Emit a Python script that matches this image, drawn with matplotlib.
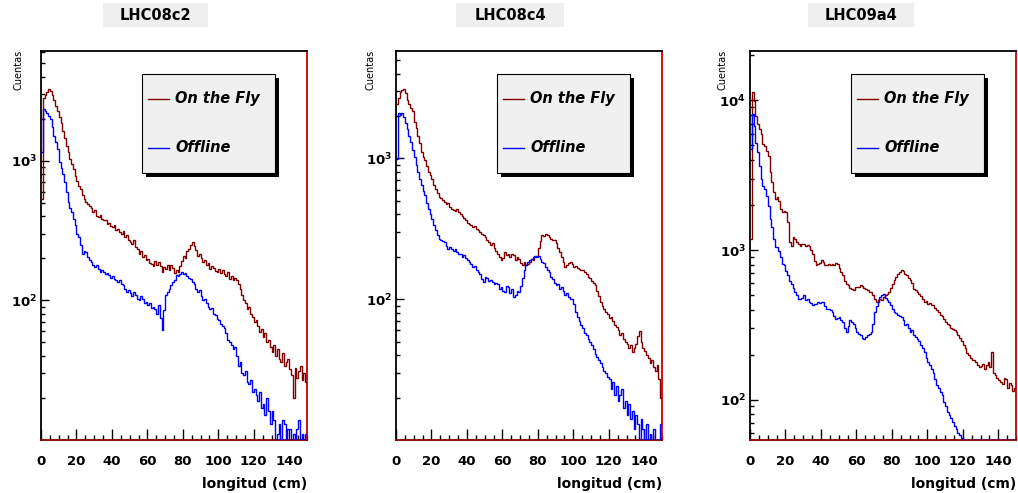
import matplotlib
matplotlib.use("Agg")
import matplotlib.pyplot as plt
import numpy as np
from matplotlib.patches import Rectangle
from matplotlib.lines import Line2D
from matplotlib.ticker import FixedLocator, FixedFormatter, LogLocator, NullFormatter

# ---- data (counts per 1 cm bin) ----
runs = ["LHC08c2", "LHC08c4", "LHC09a4"]
series_names = ["On the Fly", "Offline"]
longitud_cm = list(range(0, 151))  # bin edges

lhc08c2_onthefly = [
    530, 2800, 2950, 3100, 3250, 3150, 2950, 2700, 2450, 2250,
    2040, 1850, 1640, 1450, 1280, 1150, 1030, 950, 872, 780,
    720, 660, 628, 570, 532, 505, 490, 470, 455, 428,
    440, 405, 394, 410, 385, 378, 373, 352, 360, 340,
    334, 345, 320, 325, 308, 300, 312, 283, 295, 270,
    262, 254, 270, 240, 232, 216, 225, 205, 210, 193,
    198, 185, 183, 175, 192, 180, 188, 176, 160, 172,
    168, 178, 165, 178, 170, 158, 165, 160, 175, 190,
    209, 200, 225, 234, 250, 261, 245, 230, 209, 215,
    200, 188, 195, 180, 185, 168, 175, 170, 162, 160,
    168, 158, 165, 155, 150, 160, 143, 150, 140, 145,
    139, 130, 120, 109, 100, 95, 87, 90, 80, 76,
    70, 72, 65, 59, 62, 55, 58, 50, 52, 46,
    43, 48, 40, 45, 38, 36, 42, 34, 36, 38,
    32, 29, 20, 33, 28, 31, 34, 27, 30, 26,
]
lhc08c2_offline = [
    1150, 2340, 2250, 2210, 2100, 1980, 1750, 1510, 1350, 1210,
    973, 880, 803, 700, 600, 503, 460, 428, 380, 344,
    300, 283, 250, 216, 225, 221, 205, 195, 188, 180,
    172, 178, 168, 160, 165, 160, 155, 158, 151, 145,
    150, 142, 139, 135, 140, 131, 128, 120, 115, 118,
    112, 108, 115, 109, 103, 100, 108, 103, 95, 98,
    92, 96, 88, 90, 87, 80, 92, 75, 61, 85,
    109, 115, 120, 128, 135, 140, 151, 150, 155, 160,
    155, 158, 150, 145, 143, 135, 130, 120, 115, 118,
    108, 100, 103, 95, 90, 87, 88, 80, 78, 74,
    72, 68, 65, 63, 58, 52, 50, 48, 45, 46,
    40, 34, 36, 30, 29, 31, 26, 25, 27, 22,
    23, 21, 19, 22, 17, 18, 15, 20, 16, 13,
    16, 14, 6, 11, 13, 9, 14, 13, 6, 12,
    12, 7, 11, 8, 12, 14, 6, 11, 7, 11,
]

lhc08c4_onthefly = [
    2440, 2700, 2950, 3050, 3120, 2900, 2600, 2440, 2300, 2190,
    1810, 1640, 1455, 1280, 1110, 1030, 968, 880, 800, 760,
    717, 650, 609, 570, 532, 520, 504, 490, 477, 485,
    455, 440, 430, 425, 440, 416, 400, 390, 375, 363,
    350, 340, 335, 326, 330, 315, 309, 300, 290, 285,
    277, 265, 255, 241, 250, 230, 220, 211, 200, 189,
    195, 215, 205, 210, 200, 211, 205, 190, 198, 194,
    180, 174, 185, 174, 179, 185, 194, 190, 200, 204,
    230, 260, 285, 280, 292, 285, 275, 270, 265, 262,
    250, 230, 216, 200, 185, 169, 175, 180, 184, 178,
    169, 172, 168, 165, 160, 162, 156, 150, 145, 141,
    135, 130, 126, 115, 105, 96, 90, 85, 81, 78,
    73, 75, 70, 66, 63, 60, 56, 58, 52, 50,
    48, 45, 47, 42, 45, 48, 55, 59, 50, 45,
    43, 40, 38, 35, 37, 33, 31, 34, 27, 20,
]
lhc08c4_offline = [
    990, 2100, 2050, 2100, 1960, 1800, 1620, 1450, 1305, 1150,
    1020, 900, 800, 720, 644, 590, 547, 480, 440, 400,
    373, 335, 310, 285, 270, 262, 258, 255, 240, 229,
    235, 229, 220, 229, 215, 211, 208, 200, 205, 195,
    190, 184, 178, 169, 172, 160, 156, 150, 140, 133,
    145, 141, 135, 138, 133, 128, 130, 129, 118, 122,
    115, 112, 125, 122, 110, 118, 104, 108, 115, 112,
    125, 141, 160, 175, 184, 190, 194, 200, 204, 198,
    204, 194, 185, 180, 169, 160, 155, 144, 140, 130,
    126, 128, 119, 122, 115, 107, 110, 104, 101, 100,
    92, 81, 75, 70, 66, 62, 58, 56, 52, 50,
    47, 44, 41, 39, 37, 35, 33, 31, 30, 28,
    27, 23, 26, 21, 24, 19, 21, 23, 17, 19,
    15, 18, 14, 16, 12, 15, 13, 8, 14, 12,
    10, 13, 7, 11, 6, 12, 8, 6, 9, 13,
]

lhc09a4_onthefly = [
    1190, 11300, 9930, 7890, 6940, 6400, 5940, 5100, 4970, 4600,
    4260, 3300, 2830, 2450, 2190, 2250, 2140, 1880, 1790, 1820,
    1790, 1530, 1130, 1070, 1220, 1180, 1130, 1100, 1070, 1090,
    1090, 1060, 1080, 1070, 1000, 942, 850, 789, 808, 820,
    851, 830, 800, 789, 810, 795, 808, 800, 820, 808,
    760, 711, 680, 620, 594, 580, 560, 551, 540, 563,
    563, 570, 580, 576, 560, 545, 537, 520, 524, 500,
    470, 449, 460, 472, 465, 484, 500, 510, 524, 560,
    590, 626, 660, 690, 711, 730, 720, 693, 680, 650,
    626, 600, 551, 540, 520, 511, 490, 470, 449, 455,
    438, 440, 430, 427, 410, 400, 385, 370, 360, 348,
    330, 320, 314, 300, 295, 291, 285, 270, 260, 245,
    231, 220, 205, 198, 190, 185, 183, 178, 170, 165,
    168, 174, 160, 170, 178, 165, 208, 150, 146, 140,
    135, 131, 128, 140, 137, 120, 130, 125, 115, 119,
]
lhc09a4_offline = [
    4720, 8090, 6760, 5230, 4490, 3660, 2980, 2690, 2550, 2310,
    1980, 1610, 1420, 1190, 1040, 1040, 990, 900, 810, 789,
    720, 676, 620, 594, 560, 524, 500, 472, 472, 480,
    498, 463, 470, 449, 440, 427, 435, 438, 449, 440,
    449, 449, 420, 405, 405, 400, 385, 360, 348, 352,
    356, 340, 330, 300, 283, 310, 338, 330, 320, 300,
    283, 275, 270, 260, 256, 262, 270, 275, 283, 320,
    385, 420, 449, 484, 500, 511, 480, 463, 449, 430,
    405, 385, 380, 366, 360, 356, 340, 314, 322, 300,
    283, 290, 270, 262, 256, 245, 231, 220, 208, 190,
    178, 170, 161, 150, 137, 125, 119, 112, 107, 97,
    90, 83, 79, 75, 71, 67, 64, 60, 58, 55,
    50, 45, 40, 38, 35, 30, 28, 25, 22, 20,
    18, 16, 15, 13, 12, 11, 10, 9, 8, 7,
    7, 6, 6, 5, 5, 4, 4, 4, 3, 3,
]

onthefly = [lhc08c2_onthefly, lhc08c4_onthefly, lhc09a4_onthefly]
offline = [lhc08c2_offline, lhc08c4_offline, lhc09a4_offline]
y_ranges = [(10, 6100), (10, 5800), (53.7, 21400)]

# ---- layout (pixels in a 1018x493 canvas) ----
W, H = 1018, 493
RED = "#800000"
BLUE = "#0000ff"
panel_left = [41, 396, 750]
ylabel_offset = [23, 26, 27]
panel_width = 266
panel_top, panel_bottom = 51, 440
title_boxes = [(103, 208), (456, 564), (808, 914)]

plt.rcParams["font.family"] = ["DejaVu Sans"]
plt.rcParams["font.weight"] = "bold"


def fx(x):
    return x / W


def fy(y):
    return 1 - y / H


fig = plt.figure(figsize=(W / 100, H / 100), dpi=100)
fig.patch.set_facecolor("white")

for i, run in enumerate(runs):
    x0 = panel_left[i]
    ax = fig.add_axes([fx(x0), fy(panel_bottom), panel_width / W,
                       (panel_bottom - panel_top) / H])
    ymin, ymax = y_ranges[i]

    ax.stairs(np.maximum(onthefly[i], ymin), longitud_cm, baseline=None,
              color=RED, lw=1.0, zorder=3)
    ax.stairs(np.maximum(offline[i], ymin), longitud_cm, baseline=None,
              color=BLUE, lw=1.0, zorder=3)

    ax.set_yscale("log")
    ax.set_xlim(0, 150)
    ax.set_ylim(ymin, ymax)

    # spines like the ROOT frame
    for s in ["left", "top"]:
        ax.spines[s].set_color("black")
        ax.spines[s].set_linewidth(1.3)
    ax.spines["right"].set_color("#cc0000")
    ax.spines["right"].set_linewidth(1.3)
    ax.spines["bottom"].set_color("#8b0000")
    ax.spines["bottom"].set_linewidth(1.3)

    # x ticks
    ax.xaxis.set_major_locator(FixedLocator(list(range(0, 141, 20))))
    ax.xaxis.set_minor_locator(FixedLocator(list(range(0, 151, 5))))
    ax.tick_params(axis="x", which="major", direction="in", length=8, width=1,
                   pad=11, labelsize=9.5, top=False, color="black")
    ax.tick_params(axis="x", which="minor", direction="in", length=3.5, width=1,
                   top=False, color="black")

    # y ticks
    decades = [d for d in [10, 100, 1000, 10000] if ymin < d < ymax]
    ax.yaxis.set_major_locator(FixedLocator(decades))
    ax.yaxis.set_major_formatter(FixedFormatter(
        [r"$\mathbf{10^{%d}}$" % int(np.log10(d)) for d in decades]))
    ax.yaxis.set_minor_locator(LogLocator(base=10, subs=range(2, 10), numticks=20))
    ax.yaxis.set_minor_formatter(NullFormatter())
    ax.tick_params(axis="y", which="major", direction="in", length=6, width=1,
                   pad=3, labelsize=9.5, right=False)
    ax.tick_params(axis="y", which="minor", direction="in", length=3, width=1,
                   right=False)

    # axis titles
    fig.text(fx(x0 + 266), fy(484), "longitud (cm)", ha="right", va="center",
             fontsize=10, fontweight="bold")
    fig.text(fx(x0 - ylabel_offset[i]), fy(50), "Cuentas", rotation=90,
             ha="center", va="top", fontsize=7, fontweight="normal")

    # title box
    bx0, bx1 = title_boxes[i]
    fig.patches.append(Rectangle((fx(bx0), fy(27)), (bx1 - bx0) / W, 24 / H,
                                 transform=fig.transFigure, facecolor="#efefef",
                                 edgecolor="none", zorder=1))
    fig.text(fx((bx0 + bx1) / 2), fy(15), run, ha="center", va="center",
             fontsize=10.5, fontweight="bold", zorder=2)

    # legend with shadow
    lx0, lx1 = x0 + 101, x0 + 234
    ly0, ly1 = 74, 173
    fig.patches.append(Rectangle((fx(lx0 + 4), fy(ly1 + 4)), (lx1 - lx0) / W,
                                 (ly1 - ly0) / H, transform=fig.transFigure,
                                 facecolor="black", edgecolor="none", zorder=4))
    fig.patches.append(Rectangle((fx(lx0), fy(ly1)), (lx1 - lx0) / W,
                                 (ly1 - ly0) / H, transform=fig.transFigure,
                                 facecolor="#f0f0f0", edgecolor="black",
                                 lw=0.8, zorder=5))
    for name, color, yy in zip(series_names, [RED, BLUE], [99, 148]):
        fig.lines.append(Line2D([fx(lx0 + 6), fx(lx0 + 27)], [fy(yy), fy(yy)],
                                transform=fig.transFigure, color=color, lw=1.0,
                                zorder=6))
        fig.text(fx(lx0 + 33), fy(yy), name, ha="left", va="center",
                 fontsize=10.5, fontweight="bold", fontstyle="italic", zorder=6)

fig.savefig("out.png", dpi=100)
